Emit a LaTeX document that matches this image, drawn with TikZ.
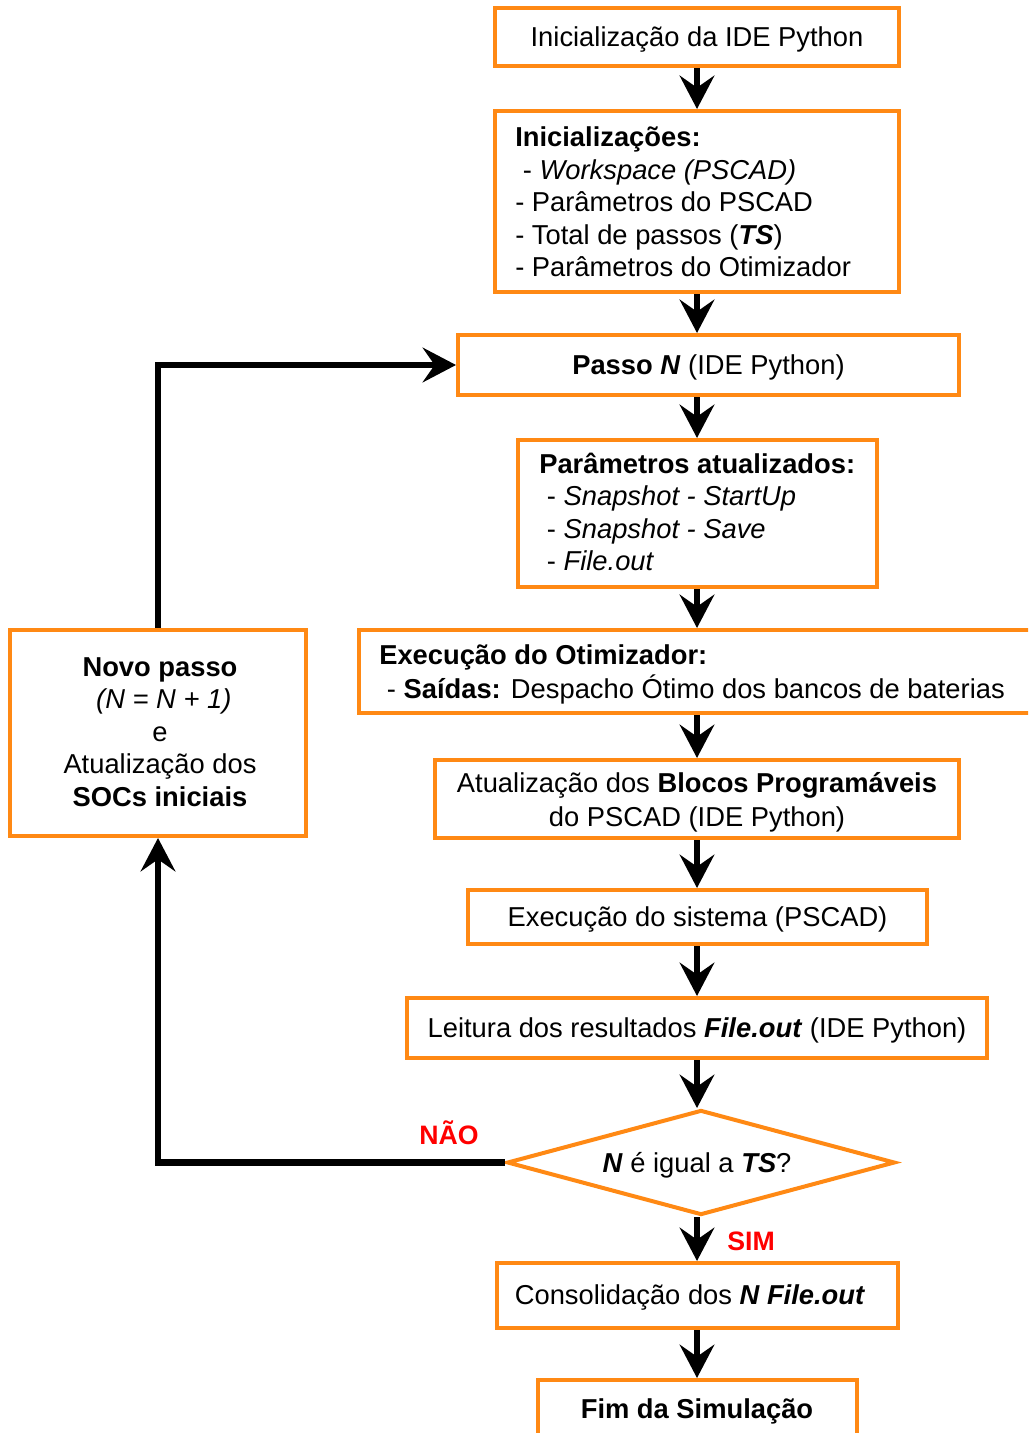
\documentclass[tikz,border=0pt]{standalone}
\usepackage{fontspec}
\setmainfont{Liberation Sans}
\usetikzlibrary{arrows.meta,shapes.geometric,fit}
\definecolor{boxorange}{RGB}{255,137,20}
\definecolor{lblred}{RGB}{255,0,0}
\tikzset{
  box/.style={draw=boxorange, line width=3pt, fill=white, inner sep=0pt},
  txt/.style={font=\fontsize{20.5}{24.4}\selectfont, inner sep=0pt, yshift=-1.5pt},
  txtm/.style={font=\fontsize{20.5}{24.4}\selectfont, inner sep=0pt},
  txtw/.style={font=\fontsize{20.5}{25.5}\selectfont, inner sep=0pt, yshift=-1.5pt},
  flow/.style={line width=4.8pt, -{Stealth[length=25pt,width=26pt,inset=9pt]}},
  lbl/.style={font=\fontsize{20}{24}\selectfont\bfseries, text=lblred, inner sep=0pt}
}
\begin{document}
\begin{tikzpicture}[x=0.75pt,y=-0.75pt]
\useasboundingbox (0,0) rectangle (1028,1433);
\clip (0,0) rectangle (1028,1433);
\coordinate (sp) at (697,0);
% boxes
\node[box, fit={(495,8) (899,66)}] (b1) {};
\node[box, fit={(495,111) (899,292)}] (b2) {};
\node[box, fit={(458,335) (959,395)}] (b3) {};
\node[box, fit={(518,440) (877,587)}] (b4) {};
\node[box, fit={(359,630) (1045,713)}] (b5) {};
\node[box, fit={(435,760) (959,838)}] (b6) {};
\node[box, fit={(468,890) (927,944)}] (b7) {};
\node[box, fit={(407,998) (987,1058)}] (b8) {};
\node[box, shape=diamond, aspect=3.7, minimum width=291pt, minimum height=78.75pt] (dm) at (701,1162.5) {};
\node[box, fit={(497,1263) (898,1328)}] (b10) {};
\node[box, fit={(538,1380) (857,1445)}] (b11) {};
\node[box, fit={(10,630) (306,836)}] (nv) {};
% texts
\node[txt] (t1) at (b1.center) {Inicialização da IDE Python};
\node[txtm, align=left, anchor=west] (t2) at (515,202) {\textbf{Inicializações:}\\\hspace*{0.28em}- \textit{Workspace (PSCAD)}\\- Parâmetros do PSCAD\\- Total de passos (\textbf{\textit{TS}})\\- Parâmetros do Otimizador};
\node[txt] (t3) at (b3.center) {\textbf{Passo \textit{N}} (IDE Python)};
\node[txtm, align=left, anchor=west] (t4) at (539,512) {\textbf{Parâmetros atualizados:}\\\hspace*{0.28em}- \textit{Snapshot - StartUp}\\\hspace*{0.28em}- \textit{Snapshot - Save}\\\hspace*{0.28em}- \textit{File.out}};
\node[txtw, align=left, anchor=west] (t5) at (379,672) {\textbf{Execução do Otimizador:}\\\hspace*{0.28em}- \textbf{Saídas:} Despacho Ótimo dos bancos de baterias};
\node[txtw, align=center] (t6) at (697,800) {Atualização dos \textbf{Blocos Programáveis}\\do PSCAD (IDE Python)};
\node[txt] (t7) at (b7.center) {Execução do sistema (PSCAD)};
\node[txt] (t8) at (b8.center) {Leitura dos resultados \textbf{\textit{File.out}} (IDE Python)};
\node[txt] (t9) at (697,1163) {\textbf{\textit{N}} é igual a \textbf{\textit{TS}}?};
\node[txt] (t10) at (690,1295) {Consolidação dos \textbf{\textit{N File.out}}};
\node[txt] (t11) at (697,1409) {\textbf{Fim da Simulação}};
\node[txtm, align=center] (tn) at (160,732) {\textbf{Novo passo}\\\hspace*{0.28em}\textit{(N = N + 1)}\\e\\Atualização dos\\\textbf{SOCs iniciais}};
% labels
\node[lbl] (nao) at (449,1133) {NÃO};
\node[lbl] (sim) at (751,1241) {SIM};
% connectors
\draw[flow] (b1.south -| sp) -- (b2.north -| sp);
\draw[flow] (b2.south -| sp) -- (b3.north -| sp);
\draw[flow] (b3.south -| sp) -- (b4.north -| sp);
\draw[flow] (b4.south -| sp) -- (b5.north -| sp);
\draw[flow] (b5.south -| sp) -- (b6.north -| sp);
\draw[flow] (b6.south -| sp) -- (b7.north -| sp);
\draw[flow] (b7.south -| sp) -- (b8.north -| sp);
\draw[flow] (b8.south -| sp) -- (dm.north -| sp);
\draw[flow] (dm.south -| sp) -- (b10.north -| sp);
\draw[flow] (b10.south -| sp) -- (b11.north -| sp);
\draw[flow] (dm.west) -| (nv.south);
\draw[flow] (nv.north) |- (b3.west);
\end{tikzpicture}
\end{document}
